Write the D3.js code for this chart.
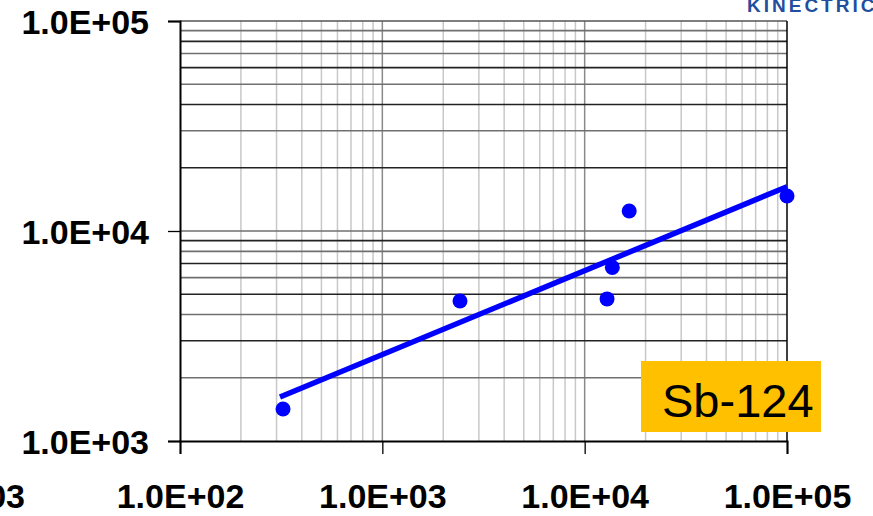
<!DOCTYPE html>
<html lang="en">
<head>
    <meta charset="UTF-8">
    <title>Sb-124</title>
    <script src="https://d3js.org/d3.v7.min.js"></script>
    <style>
        body {
            margin: 0;
            padding: 0;
            background-color: #ffffff;
            font-family: "Liberation Sans", Arial, sans-serif;
        }
        svg { display: block; }
        .tick text {
            font-size: 34px;
            font-weight: bold;
            fill: #000;
        }
    </style>
</head>
<body>
    <svg id="chart" width="873" height="516"></svg>

    <script>
        // measured points
        const pointX = [323, 2420, 12900, 13700, 16600, 100000];
        const pointY = [1420, 4640, 4750, 6710, 12450, 14680];

        // fitted trend line end points
        const fitX = [312, 100000];
        const fitY = [1620, 16250];

        const xTicks = [1e2, 1e3, 1e4, 1e5];
        const yTicks = [1e3, 1e4, 1e5];
        const isotope = "Sb-124";

        const svg = d3.select("#chart");
        const margin = { left: 180, right: 86, top: 21, bottom: 75 };
        const W = 873, H = 516;

        const x = d3.scaleLog().domain([1e2, 1e5]).range([margin.left, W - margin.right]);
        const y = d3.scaleLog().domain([1e3, 1e5]).range([H - margin.bottom, margin.top]);

        const fmt = d => "1.0E+" + String(Math.round(Math.log10(d))).padStart(2, "0");
        const isMajor = d => Math.abs(Math.log10(d) - Math.round(Math.log10(d))) < 1e-9;

        // vertical grid
        svg.append("g").selectAll("line")
            .data(x.ticks().filter(d => d > 1e2 && d < 1e5))
            .join("line")
            .attr("x1", d => x(d)).attr("x2", d => x(d))
            .attr("y1", y(1e5)).attr("y2", y(1e3))
            .attr("stroke", d => isMajor(d) ? "#8a8a8a" : "#c8c8c8")
            .attr("stroke-width", 1.5);

        // horizontal grid
        svg.append("g").selectAll("line")
            .data(y.ticks().filter(d => d > 1e3 && d < 1e5))
            .join("line")
            .attr("x1", x(1e2)).attr("x2", x(1e5))
            .attr("y1", d => y(d)).attr("y2", d => y(d))
            .attr("stroke", (d, i) => i % 2 ? "#222" : "#707070")
            .attr("stroke-width", 1.6);

        // frame
        svg.append("line")
            .attr("x1", x(1e2)).attr("x2", x(1e5))
            .attr("y1", y(1e5)).attr("y2", y(1e5))
            .attr("stroke", "#555").attr("stroke-width", 1.5);
        svg.append("line")
            .attr("x1", x(1e5)).attr("x2", x(1e5))
            .attr("y1", y(1e5)).attr("y2", y(1e3))
            .attr("stroke", "#000").attr("stroke-width", 1.5);

        // axes
        const yAxis = d3.axisLeft(y).tickValues(yTicks).tickFormat(fmt)
            .tickSize(12).tickPadding(19);
        const gy = svg.append("g")
            .attr("transform", `translate(${margin.left},0)`)
            .call(yAxis);
        gy.selectAll("text").attr("dy", "0.38em");

        const xAxis = d3.axisBottom(x).tickValues(xTicks).tickFormat(fmt)
            .tickSize(13).tickPadding(30);
        const gx = svg.append("g")
            .attr("transform", `translate(0,${H - margin.bottom})`)
            .call(xAxis);

        [gx, gy].forEach(g => {
            g.select(".domain").attr("stroke", "#000").attr("stroke-width", 2);
            g.selectAll(".tick line").attr("stroke", "#000").attr("stroke-width", 1.3);
            g.selectAll("text").style("font-family", "'Liberation Sans', Arial, sans-serif");
        });

        // clipped label from the neighbouring axis
        svg.append("text")
            .attr("x", 25).attr("y", 508)
            .attr("text-anchor", "end")
            .style("font-size", "34px").style("font-weight", "bold")
            .text("1.0E+03");

        // trend line
        const line = d3.line().x(d => x(d[0])).y(d => y(d[1]));
        svg.append("path")
            .datum(d3.zip(fitX, fitY))
            .attr("d", line)
            .attr("fill", "none")
            .attr("stroke", "#0000ff")
            .attr("stroke-width", 5.5);

        // points
        svg.append("g").selectAll("circle")
            .data(d3.zip(pointX, pointY))
            .join("circle")
            .attr("cx", d => x(d[0]))
            .attr("cy", d => y(d[1]))
            .attr("r", 7.5)
            .attr("fill", "#0000ff");

        // isotope label box
        svg.append("rect")
            .attr("x", 641).attr("y", 361)
            .attr("width", 180).attr("height", 71)
            .attr("fill", "#ffc000");
        svg.append("text")
            .attr("x", 662).attr("y", 417)
            .style("font-size", "47px")
            .style("font-family", "'Liberation Sans', Arial, sans-serif")
            .attr("fill", "#000")
            .text(isotope);

        // logo fragment top right
        svg.append("text")
            .attr("x", 747).attr("y", 12)
            .style("font-size", "19px").style("font-weight", "bold")
            .style("letter-spacing", "3px")
            .attr("fill", "#1f4f9e")
            .text("KINECTRICS");
    </script>
</body>
</html>
